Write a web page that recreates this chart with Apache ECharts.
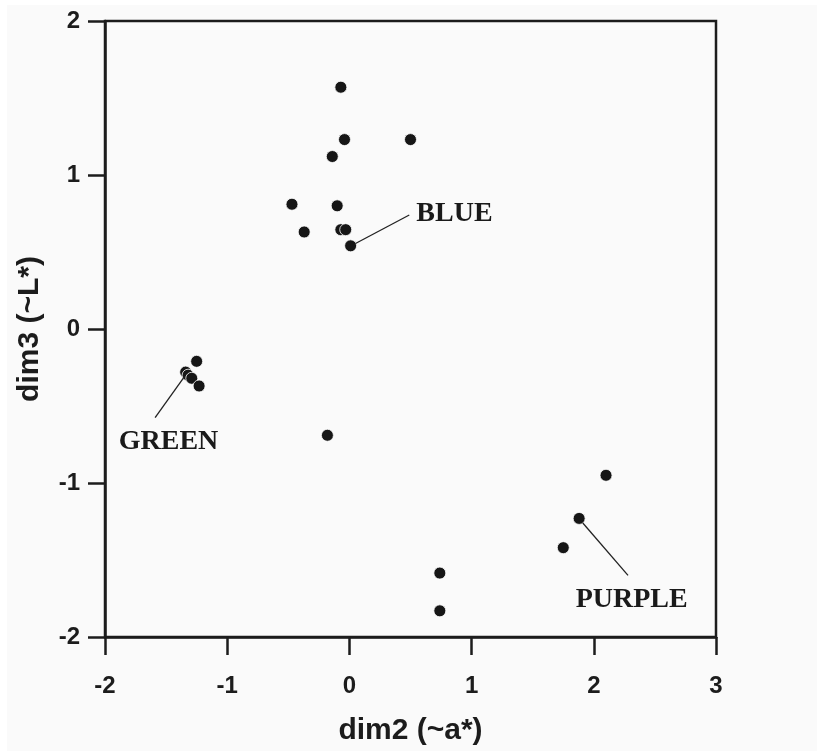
<!DOCTYPE html>
<html>
<head>
<meta charset="utf-8">
<script src="https://cdn.jsdelivr.net/npm/echarts@6/dist/echarts.min.js"></script>
<style>
  html, body { margin: 0; padding: 0; background: #ffffff; }
  #chart { position: absolute; left: 7px; top: 5px; width: 810px; height: 746px; }
</style>
</head>
<body>
<div id="chart"></div>
<script>
// points: [dim2, dim3]
var dim2Values = [-0.07, -0.04, -0.14, 0.50, -0.47, -0.10, -0.37, -0.07, -0.03, 0.01,
                  -1.25, -1.34, -1.32, -1.29, -1.23,
                  -0.18,
                  2.10, 1.88, 1.75,
                  0.74, 0.74];
var dim3Values = [1.57, 1.23, 1.12, 1.23, 0.81, 0.80, 0.63, 0.645, 0.645, 0.54,
                  -0.21, -0.28, -0.30, -0.32, -0.37,
                  -0.69,
                  -0.95, -1.23, -1.42,
                  -1.585, -1.83];

// cluster labels and leader lines (data coordinates)
var labelNames = ['BLUE', 'GREEN', 'PURPLE'];
var labelPos = [[0.86, 0.75], [-1.48, -0.735], [2.31, -1.76]];
var leaderFrom = [[0.05, 0.555], [-1.35, -0.31], [1.91, -1.26]];
var leaderTo = [[0.49, 0.74], [-1.59, -0.576], [2.28, -1.60]];

var chart = echarts.init(document.getElementById('chart'));

var points = dim2Values.map(function (x, i) { return [x, dim3Values[i]]; });
var leaders = leaderFrom.map(function (p, i) { return [{ coord: p }, { coord: leaderTo[i] }]; });
var labels = labelNames.map(function (n, i) { return { name: n, value: labelPos[i] }; });

var axisColor = '#1c1c1c';

var option = {
  backgroundColor: '#fafafa',
  animation: false,
  grid: {
    left: 93, top: 16, right: 101, bottom: 112,
    show: true, borderColor: axisColor, borderWidth: 2.5, backgroundColor: 'transparent'
  },
  xAxis: {
    type: 'value', min: -2, max: 3, interval: 1,
    name: 'dim2 (~a*)', nameLocation: 'middle', nameGap: 79,
    nameTextStyle: { fontFamily: 'Liberation Sans', fontWeight: 'bold', fontSize: 30, color: axisColor },
    axisLine: { onZero: false, lineStyle: { color: axisColor, width: 2.5 } },
    axisTick: { length: 18, lineStyle: { color: axisColor, width: 2.5 } },
    axisLabel: { margin: 37, fontFamily: 'Liberation Sans', fontWeight: 'bold', fontSize: 24, color: axisColor },
    splitLine: { show: false }
  },
  yAxis: {
    type: 'value', min: -2, max: 2, interval: 1,
    name: 'dim3 (~L*)', nameLocation: 'middle', nameGap: 60, nameRotate: 90,
    nameTextStyle: { fontFamily: 'Liberation Sans', fontWeight: 'bold', fontSize: 30, color: axisColor },
    axisLine: { onZero: false, lineStyle: { color: axisColor, width: 2.5 } },
    axisTick: { length: 17, lineStyle: { color: axisColor, width: 2.5 } },
    axisLabel: { margin: 25, fontFamily: 'Liberation Sans', fontWeight: 'bold', fontSize: 24, color: axisColor },
    splitLine: { show: false }
  },
  series: [
    {
      type: 'scatter',
      data: points,
      symbolSize: 12,
      itemStyle: { color: '#161616', borderColor: '#ffffff', borderWidth: 0.8, opacity: 1 },
      z: 3
    },
    {
      type: 'scatter',
      data: labels,
      symbolSize: 0,
      itemStyle: { opacity: 1 },
      label: {
        show: true, position: 'inside',
        formatter: '{b}',
        fontFamily: 'Liberation Serif', fontWeight: 'bold', fontSize: 28, color: '#1a1a1a'
      },
      markLine: {
        silent: true, symbol: 'none',
        lineStyle: { color: '#222222', width: 1.3, type: 'solid' },
        label: { show: false },
        data: leaders
      },
      z: 2
    }
  ]
};

chart.setOption(option);
</script>
</body>
</html>
